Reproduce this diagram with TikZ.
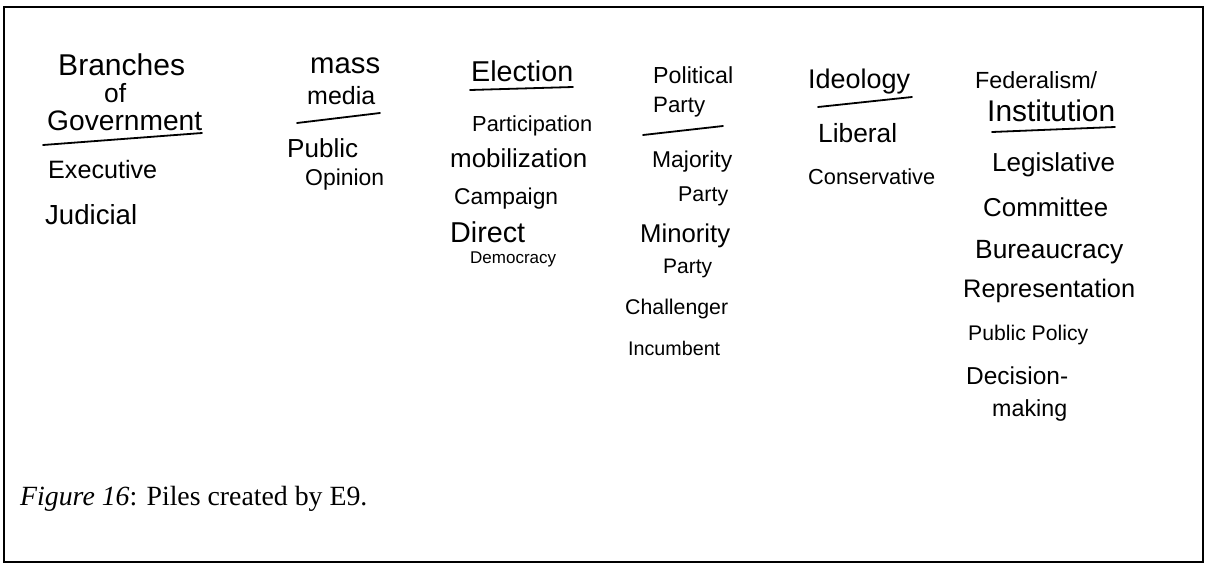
\documentclass[tikz,border=0pt]{standalone}
\usepackage{fontspec}
\usepackage{graphicx}
\setmainfont{Liberation Serif}
\newfontfamily\handfont{Liberation Sans}
% a handwritten word stretched to a given width (in pt)
\newcommand\hw[2]{\resizebox{#1pt}{!}{\handfont #2}}
\begin{document}
\begin{tikzpicture}[x=1pt,y=-1pt,
  hand/.style={font=\handfont\fontsize{25}{27}\selectfont, anchor=base west, inner sep=0pt},
  rule/.style={line width=1.8pt, line cap=round},
  frame/.style={line width=2pt}]
\useasboundingbox (0,0) rectangle (1209,565);
\draw[frame] (4,7) rectangle (1203,562);

% Branches of Government
\node[hand] (br) at (58,75) {\hw{127}{Branches}};
\node[hand] (of) at (104,102) {\hw{22}{of}};
\node[hand] (gov) at (47,130) {\hw{155}{Government}};
\draw[rule] (43,145) -- (202,133);
\node[hand] (exe) at (48,178) {\hw{109}{Executive}};
\node[hand] (jud) at (45,224) {\hw{92}{Judicial}};

% Mass media
\node[hand] (mass) at (310,73) {\hw{70}{mass}};
\node[hand] (media) at (307,104) {\hw{68}{media}};
\draw[rule] (297,123) -- (380,113);
\node[hand] (pub) at (287,157) {\hw{71}{Public}};
\node[hand] (opi) at (305,185) {\hw{79}{Opinion}};

% Election
\node[hand] (ele) at (471,81) {\hw{102}{Election}};
\draw[rule] (470,90) -- (573,87);
\node[hand] (par) at (472,131) {\hw{120}{Participation}};
\node[hand] (mob) at (450,167) {\hw{137}{mobilization}};
\node[hand] (cam) at (454,204) {\hw{104}{Campaign}};
\node[hand] (dir) at (450,242) {\hw{75}{Direct}};
\node[hand] (dem) at (470,263) {\hw{86}{Democracy}};

% Political Party
\node[hand] (pol) at (653,83) {\hw{80}{Political}};
\node[hand] (pty) at (653,112) {\hw{52}{Party}};
\draw[rule] (643,135) -- (723,126);
\node[hand] (maj) at (652,167) {\hw{80}{Majority}};
\node[hand] (majp) at (678,201) {\hw{50}{Party}};
\node[hand] (min) at (640,242) {\hw{90}{Minority}};
\node[hand] (minp) at (663,273) {\hw{49}{Party}};
\node[hand] (cha) at (625,314) {\hw{103}{Challenger}};
\node[hand] (inc) at (628,355) {\hw{92}{Incumbent}};

% Ideology
\node[hand] (ide) at (808,88) {\hw{102}{Ideology}};
\draw[rule] (818,107) -- (912,97);
\node[hand] (lib) at (818,142) {\hw{79}{Liberal}};
\node[hand] (con) at (808,184) {\hw{127}{Conservative}};

% Federalism / Institution
\node[hand] (fed) at (975,88) {\hw{122}{Federalism/}};
\node[hand] (ins) at (987,121) {\hw{128}{Institution}};
\draw[rule] (992,132) -- (1115,127);
\node[hand] (leg) at (992,171) {\hw{123}{Legislative}};
\node[hand] (com) at (983,216) {\hw{125}{Committee}};
\node[hand] (bur) at (975,258) {\hw{148}{Bureaucracy}};
\node[hand] (rep) at (963,297) {\hw{172}{Representation}};
\node[hand] (pp) at (968,340) {\hw{120}{Public Policy}};
\node[hand] (dec) at (966,384) {\hw{102}{Decision-}};
\node[hand] (mak) at (992,416) {\hw{75}{making}};

% Caption
\node[anchor=base west, inner sep=0pt, font=\fontsize{27.8}{30}\selectfont] (cap) at (20,505) {\textit{Figure 16}: Piles created by E9.};
\end{tikzpicture}
\end{document}
